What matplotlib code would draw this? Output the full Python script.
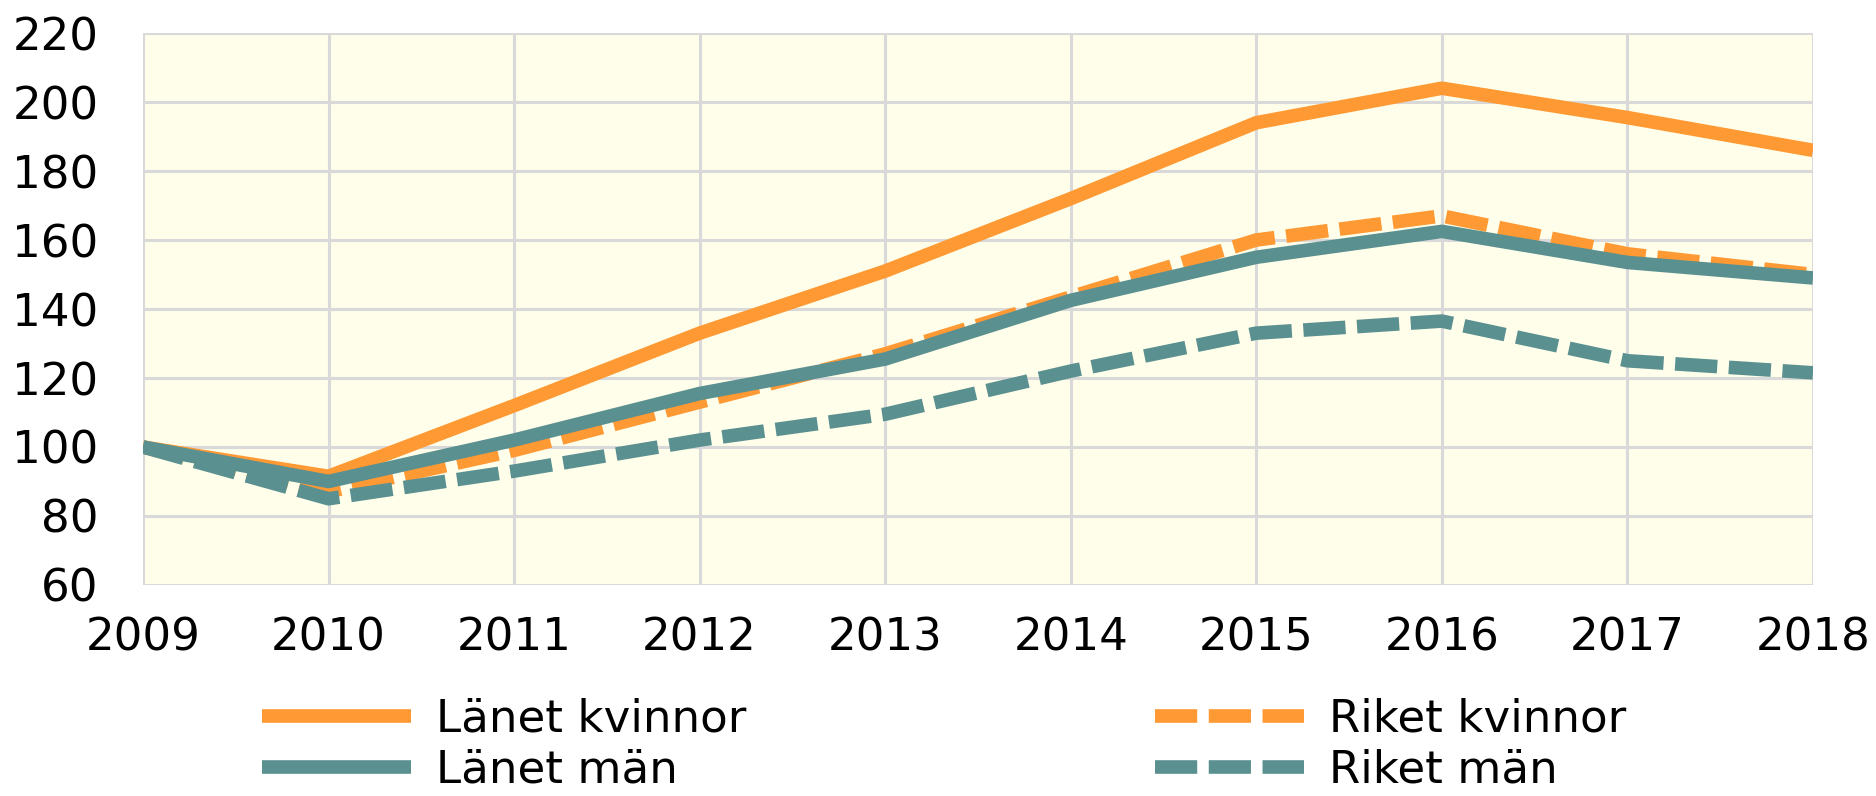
import matplotlib
matplotlib.use("Agg")
import matplotlib.pyplot as plt

years = [2009, 2010, 2011, 2012, 2013, 2014, 2015, 2016, 2017, 2018]
lanet_kvinnor = [100, 91.5, 112, 133, 151, 172, 194, 204, 195.5, 186]
riket_kvinnor = [100, 87, 99, 113, 127, 143.5, 160, 167, 156, 150]
lanet_man = [100, 90, 102, 115.5, 125.5, 142.5, 155, 162.5, 153.5, 149]
riket_man = [100, 85, 93, 102, 109.5, 122, 133, 136.5, 125, 121.5]

ORANGE = "#FF9933"
TEAL = "#5B9090"

plt.rcParams['font.family'] = ['DejaVu Sans']
fig = plt.figure(figsize=(18.76, 7.96), dpi=100)
ax = fig.add_axes([0.0762, 0.2651, 0.8902, 0.6934])
ax.set_facecolor("#FFFEEA")

lw = 9.8
dash = (3.1, 0.85)
l1, = ax.plot(years, lanet_kvinnor, color=ORANGE, lw=lw, solid_capstyle='butt', solid_joinstyle='round', label="Länet kvinnor")
l2, = ax.plot(years, riket_kvinnor, color=ORANGE, lw=lw, dashes=dash, dash_capstyle='butt', label="Riket kvinnor")
l3, = ax.plot(years, lanet_man, color=TEAL, lw=lw, solid_capstyle='butt', solid_joinstyle='round', label="Länet män")
l4, = ax.plot(years, riket_man, color=TEAL, lw=lw, dashes=dash, dash_capstyle='butt', label="Riket män")

ax.set_xlim(2009, 2018)
ax.set_ylim(60, 220)
ax.set_xticks(years)
ax.set_yticks(range(60, 221, 20))
ax.grid(True, color="#D9D9D9", lw=2.2)
ax.set_axisbelow(True)
for s in ax.spines.values():
    s.set_visible(False)
ax.tick_params(axis='both', length=0, labelsize=32.5, colors='black')
ax.tick_params(axis='y', pad=32)
ax.tick_params(axis='x', pad=23)

leg = fig.legend(handles=[l1, l3, l2, l4], ncol=2, loc='lower left',
                 bbox_to_anchor=(0.123, -0.034), frameon=False, fontsize=32.5,
                 handlelength=3.3, handletextpad=0.55, columnspacing=9.05,
                 labelspacing=0.18, borderpad=0.2)

fig.savefig("out.png", dpi=100)
